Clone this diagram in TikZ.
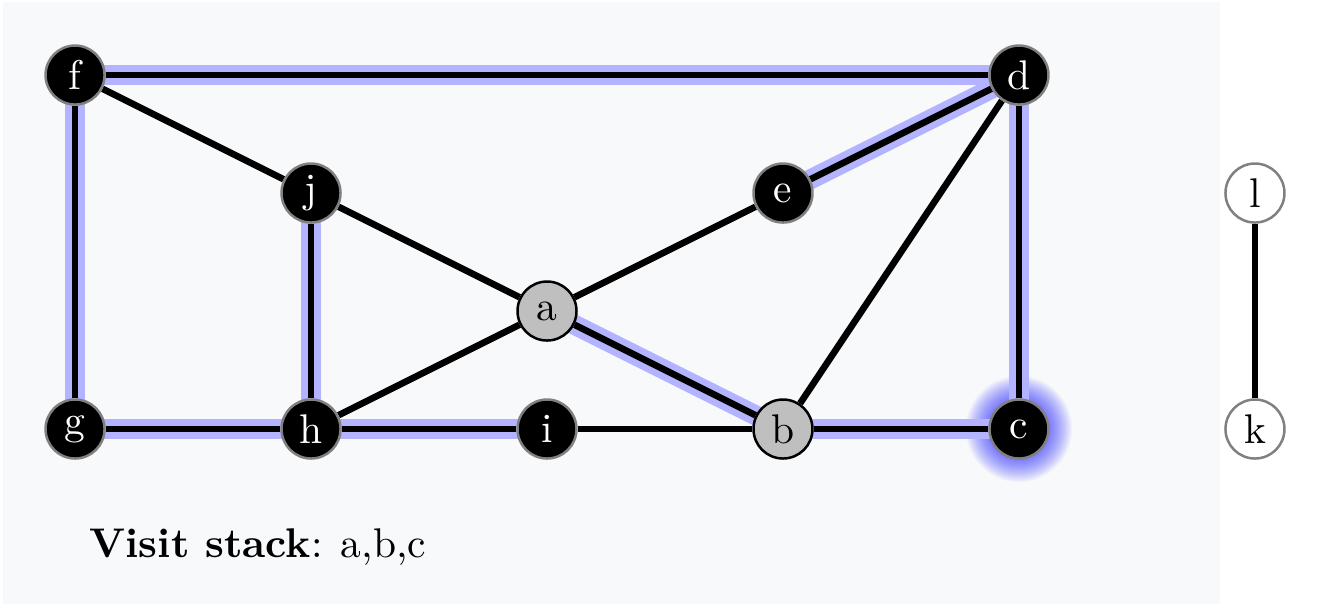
\documentclass[tikz,border=0pt]{standalone}
\usetikzlibrary{backgrounds}
\definecolor{bgc}{RGB}{248,249,251}
\definecolor{hl}{RGB}{179,179,255}
\begin{document}
\begin{tikzpicture}[
  vnode/.style={circle,inner sep=0pt,minimum size=0.5cm,line width=0.6pt},
  visited/.style={vnode,fill=black,draw=black!50,text=white},
  onstack/.style={vnode,fill=black!25,draw=black},
  fresh/.style={vnode,fill=white,draw=black!50},
  edge/.style={line width=1.6pt,black},
  hledge/.style={line width=4.8pt,hl},
]
\useasboundingbox (-0.636,-1.517) rectangle (10.636,3.636);
\node[visited] (f) at (0,3) {f};
\node[visited] (d) at (8,3) {d};
\node[visited] (j) at (2,2) {j};
\node[visited] (e) at (6,2) {e};
\node[onstack] (a) at (4,1) {a};
\node[visited] (g) at (0,0) {g};
\node[visited] (h) at (2,0) {h};
\node[visited] (i) at (4,0) {i};
\node[onstack] (b) at (6,0) {b};
\node[visited] (c) at (8,0) {c};
\node[fresh] (l) at (10,2) {l};
\node[fresh] (k) at (10,0) {k};
\node[anchor=west] (stack) at (0,-1) {\textbf{Visit stack}: a,b,c};
\begin{scope}[on background layer]
  \fill[bgc] (-0.61,-1.48) rectangle (9.70,3.62);
  % glow around current node
  \foreach \r in {0.26,0.27,...,0.46} \fill[blue,opacity=0.03] (c.center) circle (\r);
  \foreach \u/\v in {f/d,f/g,d/e,d/c,j/h,g/h,h/i,a/b,b/c}
    \draw[hledge] (\u.center) -- (\v.center);
  \foreach \u/\v in {f/d,f/g,d/e,d/c,j/h,g/h,h/i,a/b,b/c,f/j,j/a,a/e,a/h,i/b,b/d,l/k}
    \draw[edge] (\u) -- (\v);
\end{scope}
\end{tikzpicture}
\end{document}
